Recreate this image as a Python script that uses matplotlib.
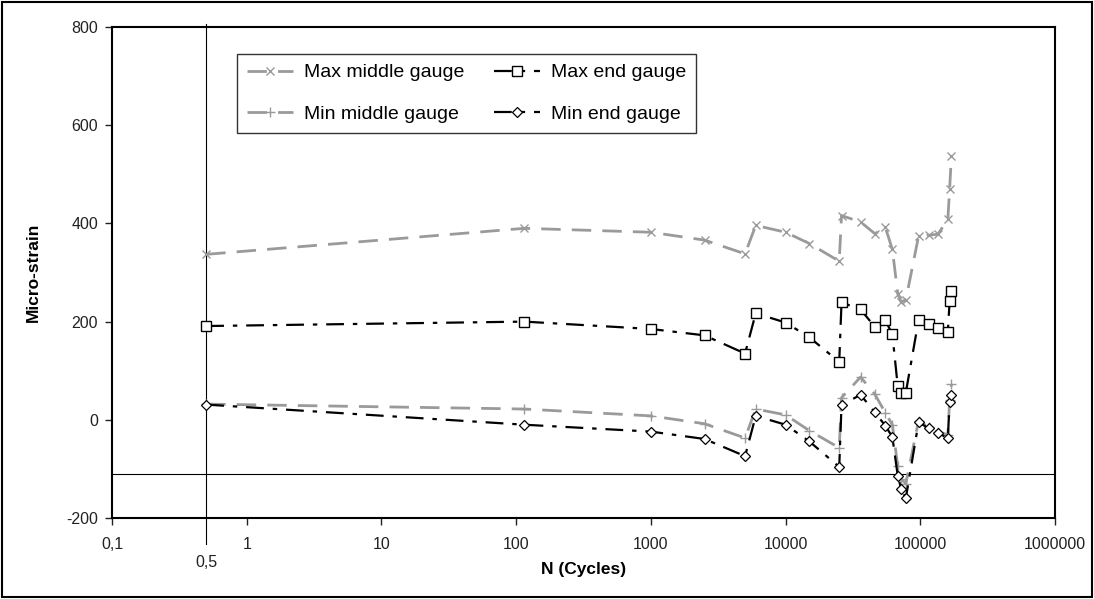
import matplotlib
matplotlib.use("Agg")
import matplotlib.pyplot as plt
from matplotlib.patches import Rectangle

plt.rcParams['font.family'] = ['Liberation Sans', 'DejaVu Sans']
plt.rcParams['axes.unicode_minus'] = False

# cycles (shared by all four series)
cycles = [0.5, 115, 1000, 2500, 5000, 6000, 10000, 15000, 25000, 26000, 36000,
          46000, 55000, 62000, 68000, 72000, 78000, 97000, 115000, 135000,
          160000, 165000, 170000]

max_middle = [337, 390, 382, 366, 338, 396, 382, 359, 323, 416, 403,
              379, 392, 347, 257, 240, 244, 374, 376, 378,
              408, 470, 537]
min_middle = [32, 22, 8, -8, -37, 22, 10, -22, -57, 45, 87,
              52, 14, -10, -95, -120, -130, -2, -15, -25,
              -30, 40, 72]
max_end = [191, 200, 185, 172, 135, 217, 198, 168, 118, 239, 225,
           189, 203, 174, 68, 54, 55, 203, 196, 186,
           179, 242, 262]
min_end = [31, -10, -24, -39, -74, 8, -10, -44, -96, 30, 51,
           15, -12, -35, -114, -140, -160, -5, -17, -27,
           -37, 37, 51]

xticks = [0.1, 1, 10, 100, 1000, 10000, 100000, 1000000]
xticklabels = ['0,1', '1', '10', '100', '1000', '10000', '100000', '1000000']
yticks = [-200, 0, 200, 400, 600, 800]

fig = plt.figure(figsize=(10.94, 5.99), dpi=100)
ax = fig.add_axes([0.1024, 0.1352, 0.862, 0.8197])

gray = '#9a9a9a'
ax.plot(cycles, max_middle, color=gray, lw=2, dashes=(7, 4), marker='x',
        ms=6, mew=1, label='Max middle gauge', zorder=3)
ax.plot(cycles, min_middle, color=gray, lw=2, dashes=(7, 4), marker='+',
        ms=7, mew=1, label='Min middle gauge', zorder=3)
ax.plot(cycles, max_end, color='black', lw=1.6, dashes=(8, 4, 2, 4), marker='s',
        ms=6.5, mfc='white', mec='black', mew=1, label='Max end gauge', zorder=4)
ax.plot(cycles, min_end, color='black', lw=1.6, dashes=(8, 4, 2, 4), marker='D',
        ms=5.5, mfc='white', mec='black', mew=0.9, label='Min end gauge', zorder=4)

# reference lines
ax.plot([0.5, 0.5], [806, -252], color='black', lw=0.8, clip_on=False, zorder=2)
ax.axhline(-110, color='black', lw=0.8, zorder=2)

ax.set_xscale('log')
ax.set_xlim(0.1, 1000000)
ax.set_ylim(-200, 800)
ax.minorticks_off()
ax.set_xticks(xticks)
ax.set_xticklabels(xticklabels)
ax.set_yticks(yticks)
ax.tick_params(axis='both', direction='out', length=5, width=1, labelsize=11.5,
               colors='#222222', pad=5)
ax.tick_params(axis='x', pad=9)
ax.text(0.5, -0.075, '0,5', transform=ax.get_xaxis_transform(), ha='center',
        va='top', fontsize=11.5, color='#222222')

for s in ax.spines.values():
    s.set_linewidth(1.5)
    s.set_color('black')

ax.set_xlabel('N (Cycles)', fontsize=12.5, fontweight='bold', labelpad=7)
ax.set_ylabel('Micro-strain', fontsize=12.5, fontweight='bold', labelpad=18)

leg = ax.legend(ncol=2, loc='upper left', bbox_to_anchor=(0.1326, 0.945),
                borderaxespad=0, fontsize=14, frameon=True, fancybox=False,
                handlelength=2.4, handletextpad=0.55, columnspacing=1.5,
                labelspacing=1.25, borderpad=0.5)
leg.get_frame().set_edgecolor('black')
leg.get_frame().set_linewidth(1)

fig.patches.append(Rectangle((0.002, 0.003), 0.996, 0.994, transform=fig.transFigure,
                             fill=False, edgecolor='black', lw=1.5))

plt.savefig('out.png', dpi=100)
